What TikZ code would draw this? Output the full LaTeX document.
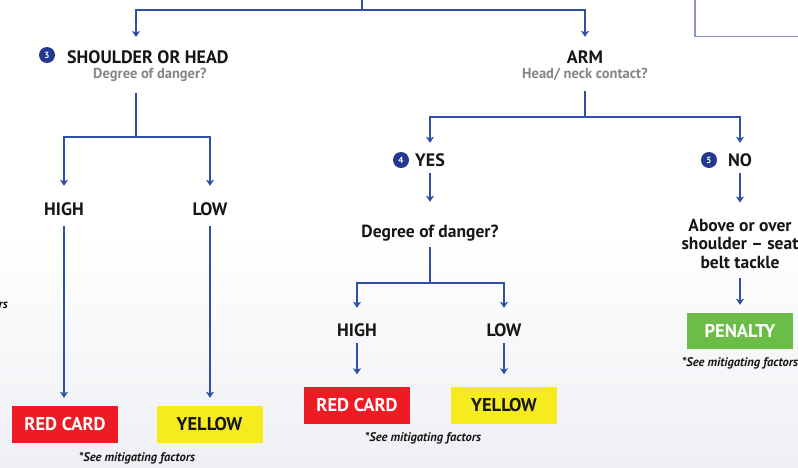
\documentclass[tikz,border=0pt]{standalone}
\usepackage{fontspec}
\setmainfont{PT Sans}
\usetikzlibrary{arrows.meta}

\definecolor{lineblue}{HTML}{2F4FA8}
\definecolor{numblue}{HTML}{22398F}
\definecolor{frameblue}{HTML}{8A93D2}
\definecolor{redcard}{HTML}{ED1C24}
\definecolor{yellowcard}{HTML}{F5EB1E}
\definecolor{penaltygreen}{HTML}{6CBD47}
\definecolor{subgray}{HTML}{858585}
\definecolor{ink}{HTML}{161616}
\definecolor{paperedge}{HTML}{EEF0F4}

\begin{document}
\begin{tikzpicture}[x=1pt,y=-1pt,
  conn/.style={draw=lineblue,line width=1.4pt},
  arr/.style={conn,-{Stealth[length=6pt,width=8pt,inset=1.5pt]}},
  head/.style={font=\fontsize{18}{20}\selectfont\bfseries,text=ink,inner sep=0pt,
               text height=12.5pt,text depth=0pt},
  ask/.style={font=\fontsize{17.5}{18.5}\selectfont\bfseries,text=ink,inner sep=0pt,
              text height=12.5pt,text depth=3.5pt},
  askblock/.style={font=\fontsize{17.5}{18.5}\selectfont\bfseries,text=ink,inner sep=0pt,
              align=center},
  sub/.style={font=\fontsize{14.5}{16}\selectfont\bfseries,text=subgray,inner sep=0pt,
              text height=10pt,text depth=3pt},
  num/.style={circle,fill=numblue,text=white,minimum size=16pt,inner sep=0pt,
              font=\fontsize{9}{9}\selectfont\bfseries},
  card/.style={minimum width=106pt,minimum height=37pt,inner sep=0pt,
               font=\fontsize{18.5}{20}\selectfont\bfseries},
  note/.style={font=\fontsize{12.5}{13}\selectfont\bfseries\itshape,text=ink,inner sep=0pt},
]
\useasboundingbox (0,0) rectangle (798,467);
\shade[top color=white,bottom color=paperedge,middle color=white] (0,0) rectangle (798,467);

% frame of the neighbouring panel
\node[draw=frameblue,line width=1.5pt,minimum width=200pt,minimum height=120pt,
      anchor=south west] (panel) at (694,37) {};

% ---- headings -------------------------------------------------------
\node[num] (n3) at (47,55) {3};
\node[head,anchor=west] (sh) at (67,57) {SHOULDER OR HEAD};
\node[sub] (shq) at (150,75) {Degree of danger?};

\node[head] (arm) at (585,57) {ARM};
\node[sub] (armq) at (585,75) {Head/ neck contact?};

% ---- shoulder or head branch ---------------------------------------
\node[head] (high1) at (64,209) {HIGH};
\node[head] (low1) at (210,209) {LOW};
\node[card,fill=redcard,text=white] (red1) at (65,424.5) {RED CARD};
\node[card,fill=yellowcard,text=ink] (yel1) at (209.5,424.5) {YELLOW};
\node[note] (note1) at (137,458) {*See mitigating factors};
\node[note,anchor=east] (note0) at (8,305) {*See mitigating factors};

% ---- arm branch ----------------------------------------------------
\node[num] (n4) at (401,160) {4};
\node[head] (yes) at (430,160) {YES};
\node[num] (n5) at (709,160) {5};
\node[head] (no) at (740,160) {NO};

\node[ask] (dd) at (430,233) {Degree of danger?};
\node[head] (high2) at (357,330) {HIGH};
\node[head] (low2) at (504,330) {LOW};
\node[card,fill=redcard,text=white] (red2) at (357,405) {RED CARD};
\node[card,fill=yellowcard,text=ink] (yel2) at (504,405) {YELLOW};
\node[note] (note2) at (423,438) {*See mitigating factors};

\node[askblock] (seat) at (740,243.5) {Above or over\\shoulder -- seat\\belt tackle};
\node[card,fill=penaltygreen,text=white,minimum height=36pt] (pen) at (740,331) {PENALTY};
\node[note] (note3) at (740,363) {*See mitigating factors};

% ---- junction points ----------------------------------------------
\coordinate (feed) at (362,-2);
\coordinate (feedJ) at (362,10);
\coordinate (shIn) at (136,37);
\coordinate (shOut) at (136,93);
\coordinate (shJ) at (136,137);
\coordinate (armJ) at (585,117);
\coordinate (ddJ) at (430,283);

% ---- connectors ----------------------------------------------------
\draw[conn] (feed) -- (feedJ);
\draw[arr] (feedJ) -| (shIn);
\draw[arr,shorten >=13.75pt] (feedJ) -| (arm.north);

\draw[conn] (shOut) -- (shJ);
\draw[arr,shorten >=16.75pt] (shJ) -| (high1.north);
\draw[arr,shorten >=16.75pt] (shJ) -| (low1.north);
\draw[arr,shorten <=10.75pt,shorten >=8pt] (high1.south) -- (high1.south |- red1.north);
\draw[arr,shorten <=10.75pt,shorten >=8pt] (low1.south) -- (low1.south |- yel1.north);

\draw[conn,shorten <=9.5pt] (armq.south) -- (armJ);
\draw[arr,shorten >=10.75pt] (armJ) -| (yes.north);
\draw[arr,shorten >=10.75pt] (armJ) -| (no.north);

\draw[arr,shorten <=6.75pt,shorten >=23pt] (yes.south) -- (dd.north);
\draw[conn,shorten <=6pt] (dd.south) -- (ddJ);
\draw[arr,shorten >=15.75pt] (ddJ) -| (high2.north);
\draw[arr,shorten >=15.75pt] (ddJ) -| (low2.north);
\draw[arr,shorten <=6.75pt,shorten >=12pt] (high2.south) -- (high2.south |- red2.north);
\draw[arr,shorten <=6.75pt,shorten >=12pt] (low2.south) -- (low2.south |- yel2.north);

\draw[arr,shorten <=6.75pt,shorten >=16pt] (no.south) -- (no.south |- seat.north);
\draw[arr,shorten <=10pt,shorten >=8pt] (seat.south) -- (seat.south |- pen.north);
\end{tikzpicture}
\end{document}
